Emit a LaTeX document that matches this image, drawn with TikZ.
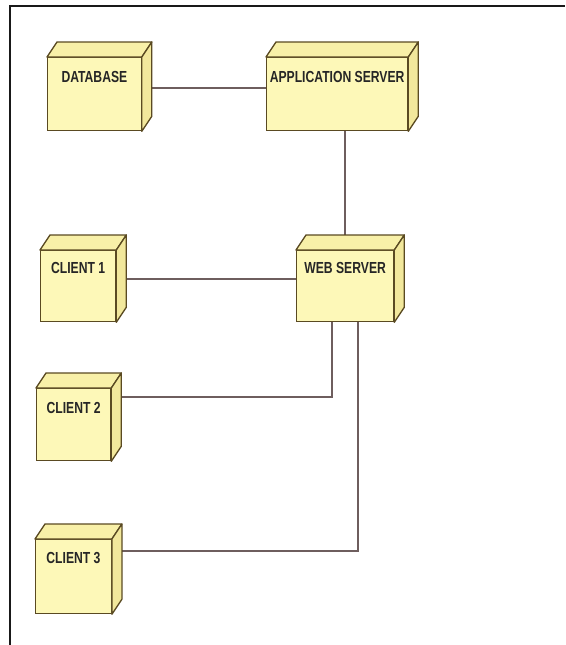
\documentclass[tikz,border=0pt]{standalone}
\usepackage{fontspec}
\newfontfamily\lblfont[FakeStretch=0.76]{Liberation Sans}
\definecolor{boxfill}{HTML}{FDF8B8}
\definecolor{boxtop}{HTML}{F8F0A8}
\definecolor{boxside}{HTML}{F2E89C}
\definecolor{boxline}{HTML}{5A4A22}
\definecolor{connline}{HTML}{6E5E5E}
\newcommand\cubefaces[1]{%
  \filldraw[boxtop, draw=boxline, line width=1.3pt, line join=round]
    (#1.north west) -- ++(10,-15) -- ([shift={(10,-15)}]#1.north east) -- (#1.north east) -- cycle;
  \filldraw[boxside, draw=boxline, line width=1.3pt, line join=round]
    (#1.north east) -- ++(10,-15) -- ([shift={(10,-15)}]#1.south east) -- (#1.south east) -- cycle;
}
\begin{document}
\begin{tikzpicture}[x=1pt,y=-1pt,
  box/.style={draw=boxline, fill=boxfill, line width=1.3pt, anchor=north west, inner sep=0pt, rectangle},
  lbl/.style={font=\lblfont\bfseries\fontsize{16}{16}\selectfont, text=black!85, inner sep=0pt, anchor=center},
  conn/.style={draw=connline, line width=1.7pt}]
\useasboundingbox[fill=white] (0,0) rectangle (565,645);
\draw[line width=2.4pt, black!90] (10,645) -- (10,6) -- (565,6);

% nodes (front faces)
\node[box, minimum width=93.5pt, minimum height=73pt] (db)  at (47,57)  {};
\node[box, minimum width=141pt,  minimum height=73pt] (app) at (266,57) {};
\node[box, minimum width=75pt,   minimum height=71pt] (c1)  at (40,250) {};
\node[box, minimum width=97pt,   minimum height=71pt] (web) at (296,250) {};
\node[box, minimum width=74pt,   minimum height=72pt] (c2)  at (36,388) {};
\node[box, minimum width=75.6pt, minimum height=74pt] (c3)  at (35,539) {};

% connectors (behind the 3D faces)
\draw[conn] ([yshift=6.5pt]db.east) -- ([yshift=6.5pt]app.west);
\draw[conn] (web.north) -- (web.north |- app.south);
\draw[conn] ([yshift=7.5pt]c1.east) -- ([yshift=7.5pt]web.west);
\draw[conn] ([xshift=-13pt]web.south) |- ([yshift=28pt]c2.east);
\draw[conn] ([xshift=12.5pt]web.south) |- ([yshift=26pt]c3.east);

% 3D faces
\cubefaces{db}
\cubefaces{app}
\cubefaces{c1}
\cubefaces{web}
\cubefaces{c2}
\cubefaces{c3}

% labels
\node[lbl] (dbL)  at ([yshift=-20pt]db.north)  {DATABASE};
\node[lbl] (appL) at ([yshift=-20pt]app.north) {APPLICATION SERVER};
\node[lbl] (c1L)  at ([yshift=-18pt]c1.north)  {CLIENT 1};
\node[lbl] (webL) at ([yshift=-18pt]web.north) {WEB SERVER};
\node[lbl] (c2L)  at ([yshift=-20pt]c2.north)  {CLIENT 2};
\node[lbl] (c3L)  at ([yshift=-19pt]c3.north)  {CLIENT 3};
\end{tikzpicture}
\end{document}
